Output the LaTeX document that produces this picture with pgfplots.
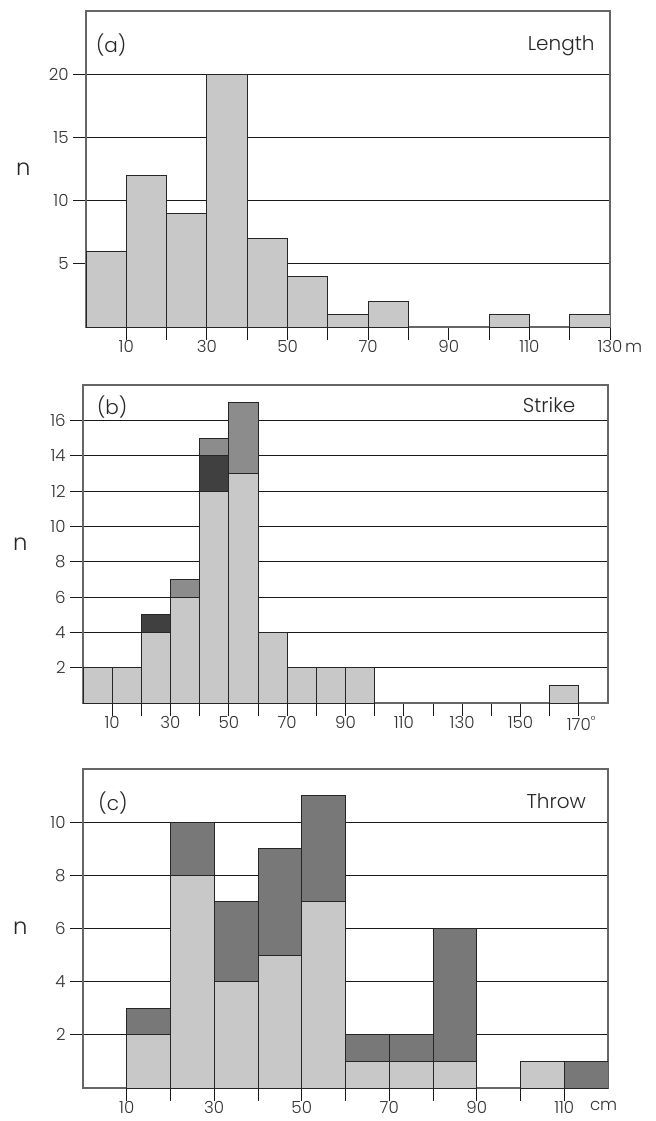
\documentclass[border=0pt]{standalone}
\usepackage{pgfplots}
\pgfplotsset{compat=1.18}
\usepackage{fontspec}
\setmainfont{Poppins}[UprightFont=* Light]

\definecolor{lightbar}{HTML}{C8C8C8}
\definecolor{midbar}{HTML}{8C8C8C}
\definecolor{darkbar}{HTML}{404040}
\definecolor{throwdark}{HTML}{787878}

\pgfplotsset{
 hist/.style={
   scale only axis,
   ymin=0, xmin=0,
   axis line style={black!60, line width=0.8pt},
   ymajorgrids, grid style={black!90, line width=0.7pt},
   tick align=outside,
   major tick length=9.5pt,
   tick style={black!90, line width=0.7pt},
   xtick pos=bottom, ytick pos=left,
   ybar stacked, bar width=10, bar shift=0pt,
   /pgf/number format/assume math mode=true,
   tick label style={font=\fontsize{12.5}{14}\selectfont, text=black!80},
   xticklabel style={inner sep=0.5pt},
   ylabel={n},
   every axis y label/.style={at={(rel axis cs:0,0.5)}, xshift=-47pt, anchor=center, font=\fontsize{17}{19}\selectfont, text=black!85},
   every axis plot/.append style={draw=black!85, line width=0.7pt},
 }
}

\begin{document}
\begin{tikzpicture}
\useasboundingbox (0,0) rectangle (492pt,-840.75pt);

% (a) Length
\begin{axis}[hist,
  at={(64.5pt,-8.25pt)}, anchor=north west,
  width=393pt, height=237pt,
  xmax=130, ymax=25,
  xtick={10,20,...,130},
  xticklabels={10,,30,,50,,70,,90,,110,,130\rlap{\,m}},
  ytick={5,10,15,20},
]
\addplot[fill=lightbar] coordinates {(5,6)(15,12)(25,9)(35,20)(45,7)(55,4)(65,1)(75,2)(85,0)(95,0)(105,1)(115,0)(125,1)};
\node[anchor=west, font=\fontsize{15}{17}\selectfont, text=black!85] at (rel axis cs:0,1) [xshift=4pt, yshift=-25.5pt] {(a)};
\node[anchor=east, font=\fontsize{15}{17}\selectfont, text=black!85] at (rel axis cs:1,1) [xshift=-8pt, yshift=-26pt] {Length};
\end{axis}

% (b) Strike
\begin{axis}[hist,
  at={(62.25pt,-288.75pt)}, anchor=north west,
  width=393.75pt, height=238.5pt,
  xmax=180, ymax=18,
  xtick={10,20,...,170},
  xticklabels={10,,30,,50,,70,,90,,110,,130,,150,,170\rlap{\textsuperscript{°}}},
  ytick={2,4,...,16},
]
\addplot[fill=lightbar] coordinates {(5,2)(15,2)(25,4)(35,6)(45,12)(55,13)(65,4)(75,2)(85,2)(95,2)(105,0)(115,0)(125,0)(135,0)(145,0)(155,0)(165,1)(175,0)};
\addplot[fill=darkbar] coordinates {(5,0)(15,0)(25,1)(35,0)(45,2)(55,0)(65,0)(75,0)(85,0)(95,0)(105,0)(115,0)(125,0)(135,0)(145,0)(155,0)(165,0)(175,0)};
\addplot[fill=midbar] coordinates {(5,0)(15,0)(25,0)(35,1)(45,1)(55,4)(65,0)(75,0)(85,0)(95,0)(105,0)(115,0)(125,0)(135,0)(145,0)(155,0)(165,0)(175,0)};
\node[anchor=west, font=\fontsize{15}{17}\selectfont, text=black!85] at (rel axis cs:0,1) [xshift=7pt, yshift=-16.5pt] {(b)};
\node[anchor=east, font=\fontsize{15}{17}\selectfont, text=black!85] at (rel axis cs:1,1) [xshift=-21pt, yshift=-15pt] {Strike};
\end{axis}

% (c) Throw
\begin{axis}[hist,
  at={(62.25pt,-576.75pt)}, anchor=north west,
  width=393.75pt, height=239.25pt,
  xmax=120, ymax=12,
  xtick={10,20,...,110},
  xticklabels={10,,30,,50,,70,,90,,110},
  extra x ticks={119},
  extra x tick labels={cm},
  extra x tick style={tick style={draw=none}},
  ytick={2,4,...,10},
]
\addplot[fill=lightbar] coordinates {(5,0)(15,2)(25,8)(35,4)(45,5)(55,7)(65,1)(75,1)(85,1)(95,0)(105,1)(115,0)};
\addplot[fill=throwdark] coordinates {(5,0)(15,1)(25,2)(35,3)(45,4)(55,4)(65,1)(75,1)(85,5)(95,0)(105,0)(115,1)};
\node[anchor=west, font=\fontsize{15}{17}\selectfont, text=black!85] at (rel axis cs:0,1) [xshift=8pt, yshift=-25.5pt] {(c)};
\node[anchor=east, font=\fontsize{15}{17}\selectfont, text=black!85] at (rel axis cs:1,1) [xshift=-13pt, yshift=-24pt] {Throw};
\end{axis}
\end{tikzpicture}
\end{document}
